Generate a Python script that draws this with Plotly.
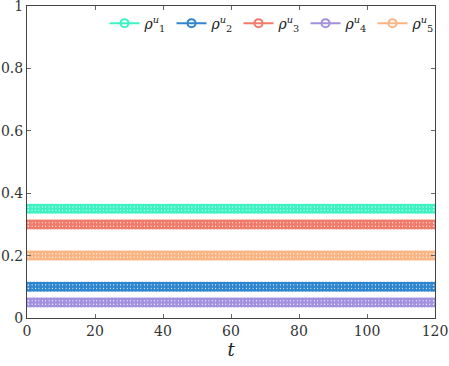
import numpy as np
import plotly.graph_objects as go

# time samples and the constant rho^u values of each series
t = np.arange(0, 121, 1)
rho1 = [0.35] * len(t)
rho2 = [0.10] * len(t)
rho3 = [0.30] * len(t)
rho4 = [0.05] * len(t)
rho5 = [0.20] * len(t)

series = [rho1, rho2, rho3, rho4, rho5]
names = ["<i>ρ</i><sup><i>u</i></sup><sub>1</sub>",
         "<i>ρ</i><sup><i>u</i></sup><sub>2</sub>",
         "<i>ρ</i><sup><i>u</i></sup><sub>3</sub>",
         "<i>ρ</i><sup><i>u</i></sup><sub>4</sub>",
         "<i>ρ</i><sup><i>u</i></sup><sub>5</sub>"]
colors = ["#3ef2c3", "#2f86cf", "#f07b6b", "#a391e0", "#f9b583"]

serif = "DejaVu Serif"

fig = go.Figure()
for y, name, c in zip(series, names, colors):
    fig.add_trace(go.Scatter(
        x=t, y=y, name=name, mode="lines+markers",
        line=dict(color=c, width=2),
        marker=dict(symbol="circle-open", size=8, color=c, line=dict(width=2)),
    ))

axis_style = dict(
    showline=True, linecolor="#444", linewidth=1, mirror="ticks",
    ticks="inside", ticklen=4, tickcolor="#666", showgrid=False, zeroline=False,
    automargin=False, ticklabeloverflow="allow",
    tickfont=dict(family=serif, size=14, color="#333"),
)

fig.update_layout(
    width=449, height=366,
    margin=dict(l=27, r=14, t=6, b=48),
    plot_bgcolor="white", paper_bgcolor="white",
    font=dict(family=serif, color="#222"),
    xaxis=dict(range=[0, 120], dtick=20,
               title=dict(text="<i>t</i>", font=dict(size=18, family=serif), standoff=0),
               **axis_style),
    yaxis=dict(range=[0, 1], tickvals=[0, 0.2, 0.4, 0.6, 0.8, 1],
               ticktext=["0", "0.2", "0.4", "0.6", "0.8", "1"], **axis_style),
    legend=dict(orientation="h", x=0.19, xanchor="left", y=0.995, yanchor="top",
                bgcolor="rgba(255,255,255,0)", font=dict(size=14, family=serif),
                entrywidth=22, tracegroupgap=0),
)

fig.write_html("out.html", config={"displayModeBar": False},
               post_script="document.body.style.margin='0';")
